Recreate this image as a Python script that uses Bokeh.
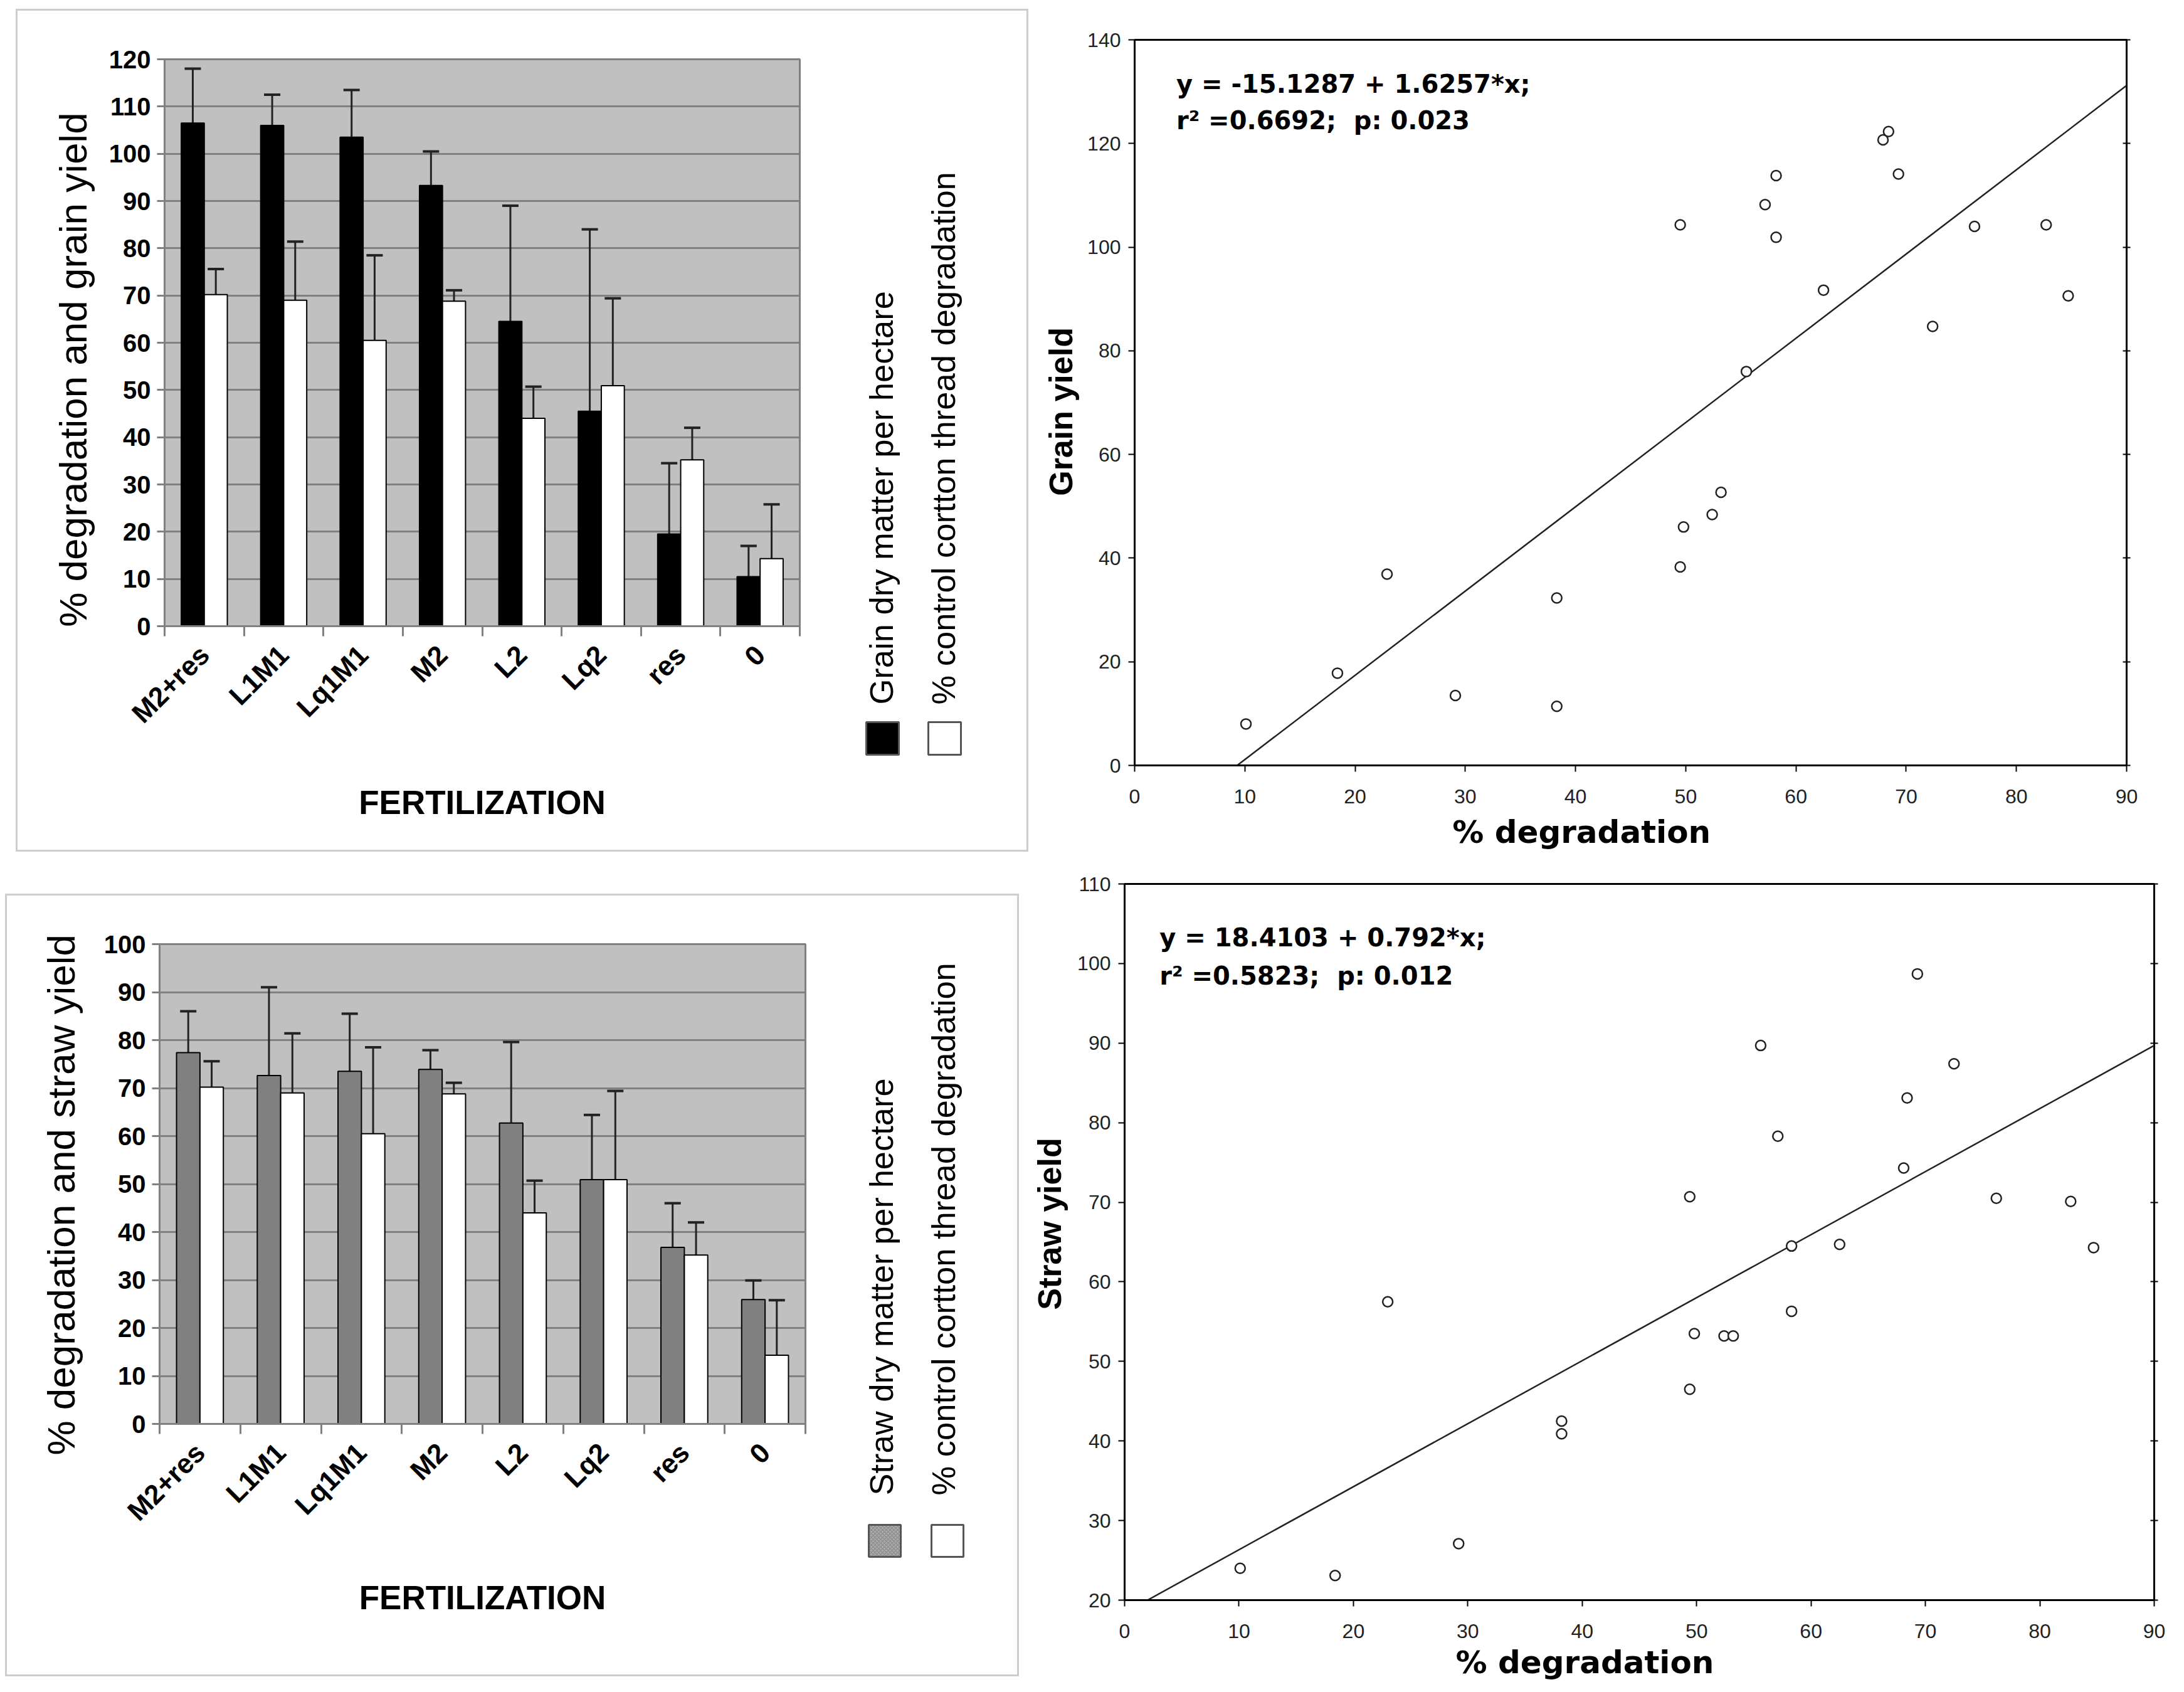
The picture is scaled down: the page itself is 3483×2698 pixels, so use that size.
import numpy as np
from math import pi
from bokeh.plotting import figure
from bokeh.models import (ColumnDataSource, FixedTicker, LinearAxis, Whisker, TeeHead,
                          Range1d, CustomJSTickFormatter, Div)
from bokeh.core.properties import value
from bokeh.layouts import row, column
from bokeh.embed import file_html
from bokeh.resources import INLINE

# ---------------- data ----------------
categories = ["M2+res", "L1M1", "Lq1M1", "M2", "L2", "Lq2", "res", "0"]
grain = [106.5, 106.0, 103.5, 93.3, 64.5, 45.5, 19.5, 10.5]
grain_err = [11.5, 6.5, 10.0, 7.2, 24.5, 38.5, 15.0, 6.5]
degradation = [70.2, 69.0, 60.5, 68.8, 44.0, 50.9, 35.2, 14.3]
degradation_err = [5.4, 12.4, 18.0, 2.3, 6.7, 18.5, 6.8, 11.5]
straw = [77.4, 72.6, 73.5, 73.9, 62.7, 50.9, 36.8, 25.9]
straw_err = [8.6, 18.4, 12.0, 4.0, 16.9, 13.5, 9.2, 4.0]

grain_ticks = list(range(0, 121, 10))
straw_ticks = list(range(0, 101, 10))

deg_x_grain = [10.1, 18.4, 22.9, 29.1, 38.3, 38.3, 49.5, 49.8, 49.5, 52.4, 53.2, 55.5,
               57.2, 58.2, 58.2, 62.5, 67.9, 68.4, 69.3, 72.4, 76.2, 82.7, 84.7]
grain_yield = [8.0, 17.8, 36.9, 13.5, 32.3, 11.4, 38.3, 46.0, 104.3, 48.4, 52.7, 76.0,
               108.2, 113.8, 101.9, 91.7, 120.7, 122.3, 114.1, 84.7, 104.0, 104.3, 90.6]
grain_fit = (-15.1287, 1.6257)
grain_eq = ["y = -15.1287 + 1.6257*x;", "r² =0.6692;\u00a0 p: 0.023"]

deg_x_straw = [10.1, 18.4, 23.0, 29.2, 38.2, 38.2, 49.4, 49.4, 49.8, 52.4, 53.2, 55.6,
               57.1, 58.3, 58.3, 62.5, 68.1, 68.4, 69.3, 72.5, 76.2, 82.7, 84.7]
straw_yield = [24.0, 23.1, 57.5, 27.1, 42.5, 40.9, 70.7, 46.5, 53.5, 53.2, 53.2, 89.7,
               78.3, 64.5, 56.3, 64.7, 74.3, 83.1, 98.7, 87.4, 70.5, 70.1, 64.3]
straw_fit = (18.4103, 0.792)
straw_eq = ["y = 18.4103 + 0.792*x;", "r² =0.5823;\u00a0 p: 0.012"]

FONT = "Liberation Sans"
BOX_COLOR = "#cdcdcd"
NB = "\u00a0"


def bar_chart(frame_w, frame_h, borders, series1, err1, color1, ymax, yticks, ylabel,
              ylab_standoff, xlab_standoff):
    bl, br, bt, bb = borders
    p = figure(frame_width=frame_w, frame_height=frame_h, title=None,
               x_range=Range1d(0, len(categories)), y_range=Range1d(0, ymax),
               output_backend="svg", toolbar_location=None,
               min_border_left=bl, min_border_right=br, min_border_top=bt,
               min_border_bottom=bb)
    p.background_fill_color = "#c0c0c0"
    p.border_fill_color = "white"
    p.outline_line_color = "#808080"
    p.outline_line_width = 3

    idx = np.arange(len(categories))
    s1 = ColumnDataSource(dict(x=idx + 0.5 - 0.145, top=series1,
                               up=np.array(series1) + np.array(err1),
                               lo=np.array(series1) - np.array(err1)))
    s2 = ColumnDataSource(dict(x=idx + 0.5 + 0.145, top=degradation,
                               up=np.array(degradation) + np.array(degradation_err),
                               lo=np.array(degradation) - np.array(degradation_err)))
    p.vbar(x="x", top="top", bottom=0, width=0.29, source=s1, fill_color=color1,
           line_color="black", line_width=2)
    p.vbar(x="x", top="top", bottom=0, width=0.29, source=s2, fill_color="white",
           line_color="black", line_width=2)
    for s in (s1, s2):
        p.add_layout(Whisker(source=s, base="x", upper="up", lower="lo",
                             line_color="#222222", line_width=3,
                             upper_head=TeeHead(size=26, line_width=4, line_color="#222222"),
                             lower_head=TeeHead(size=26, line_width=4, line_color="#222222")))

    p.yaxis.ticker = FixedTicker(ticks=yticks)
    p.ygrid.ticker = FixedTicker(ticks=yticks)
    p.ygrid.grid_line_color = "#808080"
    p.ygrid.grid_line_width = 3
    p.xgrid.grid_line_color = None
    p.yaxis.axis_line_color = "#808080"
    p.yaxis.axis_line_width = 3
    p.yaxis.major_tick_line_color = "#808080"
    p.yaxis.major_tick_line_width = 3
    p.yaxis.major_tick_out = 12
    p.yaxis.major_tick_in = 0
    p.yaxis.minor_tick_line_color = None
    p.yaxis.major_label_standoff = 10
    p.yaxis.major_label_text_font = FONT
    p.yaxis.major_label_text_font_style = "bold"
    p.yaxis.major_label_text_font_size = "40px"
    p.yaxis.major_label_text_color = "black"
    p.yaxis.axis_label = ylabel
    p.yaxis.axis_label_text_font = FONT
    p.yaxis.axis_label_text_font_style = "normal"
    p.yaxis.axis_label_text_font_size = "62px"
    p.yaxis.axis_label_text_color = "black"
    p.yaxis.axis_label_standoff = ylab_standoff

    centers = [i + 0.5 for i in range(len(categories))]
    p.xaxis.ticker = FixedTicker(ticks=centers, minor_ticks=list(range(len(categories) + 1)))
    p.xaxis.major_label_overrides = {c: name for c, name in zip(centers, categories)}
    p.xaxis.major_tick_line_color = None
    p.xaxis.major_tick_out = 0
    p.xaxis.major_tick_in = 0
    p.xaxis.minor_tick_line_color = "#808080"
    p.xaxis.minor_tick_line_width = 3
    p.xaxis.minor_tick_out = 16
    p.xaxis.minor_tick_in = 0
    p.xaxis.axis_line_color = "#808080"
    p.xaxis.axis_line_width = 3
    p.xaxis.major_label_orientation = pi / 4
    p.xaxis.major_label_standoff = 22
    p.xaxis.major_label_text_font = FONT
    p.xaxis.major_label_text_font_style = "bold"
    p.xaxis.major_label_text_font_size = "44px"
    p.xaxis.major_label_text_color = "black"
    p.xaxis.axis_label = "FERTILIZATION"
    p.xaxis.axis_label_text_font = FONT
    p.xaxis.axis_label_text_font_style = "bold"
    p.xaxis.axis_label_text_font_size = "53px"
    p.xaxis.axis_label_text_color = "black"
    p.xaxis.axis_label_standoff = xlab_standoff
    return p


def legend_fig(w, h, labels, colors, hatches, text_x, text_y, sw_left, sw_bottom, sw_size):
    p = figure(width=w, height=h, title=None, x_range=Range1d(0, w), y_range=Range1d(0, h),
               x_axis_type=None, y_axis_type=None, output_backend="svg",
               toolbar_location=None, min_border=0)
    p.min_border_left = p.min_border_right = p.min_border_top = p.min_border_bottom = 0
    p.outline_line_color = None
    p.grid.grid_line_color = None
    p.background_fill_color = "white"
    p.border_fill_color = "white"
    p.text(x=text_x, y=[text_y] * len(labels), text=labels, angle=pi / 2,
           text_align="left", text_baseline="middle", text_font=value(FONT),
           text_font_size="52.5px", text_color="black")
    lefts = np.array(sw_left, dtype=float)
    p.quad(left=lefts, right=lefts + sw_size, bottom=sw_bottom, top=sw_bottom + sw_size,
           fill_color=colors, line_color="#555555", line_width=3,
           hatch_pattern=hatches, hatch_color="#7a7a7a", hatch_scale=6, hatch_weight=1)
    return p


def boxed(chart, legend, width, height, margin, t=3):
    def bar(w, h):
        return Div(text="", width=w, height=h, margin=0,
                   styles={"background-color": BOX_COLOR})
    # each figure sits in its own column so their frames are not aligned with each other
    inner = row(bar(t, height - 2 * t), column(chart), column(legend), bar(t, height - 2 * t))
    return column(bar(width, t), inner, bar(width, t), margin=margin)


def scatter_panel(frame_w, frame_h, borders, xs, ys, fit, eq, eq_pos, ymin, ymax, ystep,
                  ylabel, ylab_standoff, xlabel, xlab_standoff, xtick_standoff):
    bl, br, bt, bb = borders
    p = figure(frame_width=frame_w, frame_height=frame_h, title=None,
               x_range=Range1d(0, 90), y_range=Range1d(ymin, ymax),
               output_backend="svg", toolbar_location=None,
               min_border_left=bl, min_border_right=br, min_border_top=bt,
               min_border_bottom=bb)
    p.background_fill_color = "white"
    p.border_fill_color = "white"
    p.outline_line_color = "black"
    p.outline_line_width = 3
    p.grid.grid_line_color = None

    b0, b1 = fit
    x0 = max(p.x_range.start, (ymin - b0) / b1)
    line_x = [x0, p.x_range.end]
    line_y = [b0 + b1 * v for v in line_x]
    p.line(line_x, line_y, line_color="#222222", line_width=2.5)
    p.scatter(xs, ys, marker="circle", size=16, fill_color="white",
              line_color="#222222", line_width=2.5)

    yt = list(range(ymin, ymax + 1, ystep))
    p.xaxis.ticker = FixedTicker(ticks=list(range(0, 91, 10)))
    p.yaxis.ticker = FixedTicker(ticks=yt)
    for ax in (p.xaxis[0], p.yaxis[0]):
        ax.axis_line_color = "black"
        ax.axis_line_width = 3
        ax.major_tick_line_color = "black"
        ax.major_tick_line_width = 2
        ax.major_tick_out = 10
        ax.major_tick_in = 0
        ax.minor_tick_line_color = None
        ax.major_label_text_font = FONT
        ax.major_label_text_font_size = "32px"
        ax.major_label_text_color = "#222222"
        ax.axis_label_text_color = "black"
    p.yaxis.major_label_standoff = 12
    p.xaxis.major_label_standoff = xtick_standoff
    p.yaxis.axis_label = ylabel
    p.yaxis.axis_label_text_font = FONT
    p.yaxis.axis_label_text_font_style = "bold"
    p.yaxis.axis_label_text_font_size = "52px"
    p.yaxis.axis_label_standoff = ylab_standoff
    p.xaxis.axis_label = xlabel
    p.xaxis.axis_label_text_font = "DejaVu Sans"
    p.xaxis.axis_label_text_font_style = "bold"
    p.xaxis.axis_label_text_font_size = "50px"
    p.xaxis.axis_label_standoff = xlab_standoff

    rax = LinearAxis(ticker=FixedTicker(ticks=yt),
                     formatter=CustomJSTickFormatter(code="return ''"))
    rax.axis_line_color = None
    rax.major_tick_line_color = "black"
    rax.major_tick_line_width = 2
    rax.major_tick_out = 6
    rax.major_tick_in = 6
    rax.minor_tick_line_color = None
    rax.major_label_standoff = 0
    p.add_layout(rax, "right")

    # equation text in the upper-left corner of the plot area
    xr = p.x_range.end - p.x_range.start
    yr = ymax - ymin
    fx, fy1, fy2 = eq_pos
    ex = p.x_range.start + fx * xr
    ey = [ymax - fy1 * yr, ymax - fy2 * yr]
    p.text(x=[ex, ex], y=ey, text=eq, text_align="left", text_baseline="middle",
           text_font=value("DejaVu Sans"), text_font_style="bold", text_font_size="40px",
           text_color="black")
    return p


# top-left panel: box 1615 x 1344
tl_chart = bar_chart(1013, 904, (234, 57, 77, 357), grain, grain_err, "black", 120,
                     grain_ticks, "% degradation and grain yield" + NB * 5, 20, 68)
tl_leg = legend_fig(305, 1338, ["Grain dry matter per hectare",
                                "% control cortton thread degradation"],
                    ["black", "white"], [" ", " "], [73, 172], 232, [49, 148], 152, 52)
tl = boxed(tl_chart, tl_leg, 1615, 1344, (14, 0, 24, 25))

# bottom-left panel: box 1617 x 1248
bl_chart = bar_chart(1030, 765, (243, 48, 77, 400), straw, straw_err, "#808080", 100,
                     straw_ticks, "% degradation and straw yield" + NB * 2, 31, 64)
bl_leg = legend_fig(290, 1242, ["Straw dry matter per hectare",
                                "% control cortton thread degradation"],
                    ["#a8a8a8", "white"], ["diagonal_cross", " "], [73, 172], 286,
                    [53, 153], 188, 51)
bl = boxed(bl_chart, bl_leg, 1617, 1248, (43, 0, 9, 8))

tr = scatter_panel(1582, 1157, (169, 76, 63, 162), deg_x_grain, grain_yield, grain_fit,
                   grain_eq, (0.042, 0.061, 0.111), 0, 140, 20, "Grain yield" + NB * 2, 10,
                   "% degradation" + NB * 9, 14, 28)
br = scatter_panel(1642, 1142, (168, 32, 27, 131), deg_x_straw, straw_yield, straw_fit,
                   straw_eq, (0.034, 0.075, 0.128), 20, 110, 10, NB * 4 + "Straw yield", 12,
                   "% degradation" + NB * 10, 7, 28)

layout = column(row(tl, tr), row(bl, br))
open("out.html", "w").write(file_html(layout, INLINE))
